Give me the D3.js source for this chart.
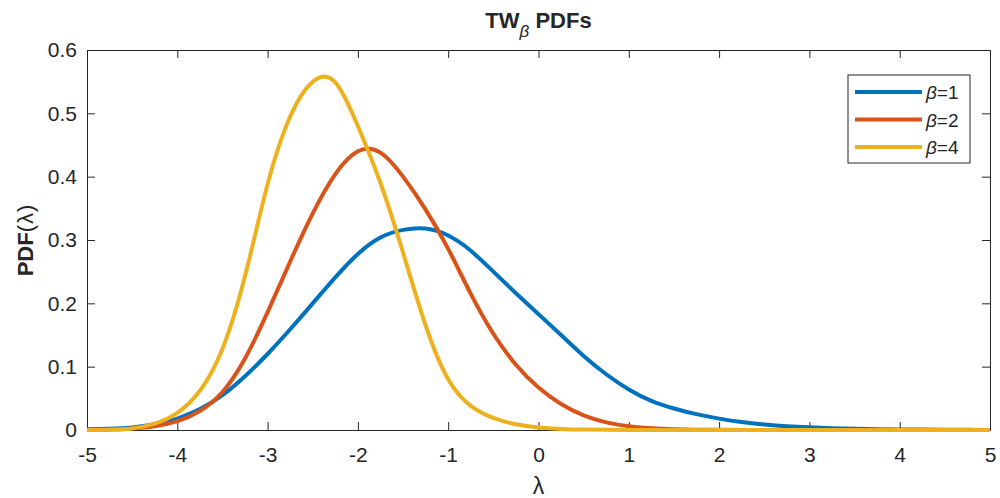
<!DOCTYPE html>
<html>
<head>
<meta charset="utf-8">
<script src="https://cdn.jsdelivr.net/npm/d3@7"></script>
<style>
  body { margin: 0; background: #fff; }
  text { font-family: Arial, "Liberation Sans", Helvetica, sans-serif; fill: #262626; }
</style>
</head>
<body>
<div class="first"></div>
<script>
// Tracy-Widom densities, on a grid of lambda values (step 0.25)
const lambdas = d3.range(41).map(i => -5 + i * 0.25);

const pdfBeta1 = [0.001, 0.002, 0.004, 0.009, 0.018, 0.033, 0.055, 0.085, 0.120, 0.159,
                  0.200, 0.241, 0.278, 0.304, 0.316, 0.318, 0.307, 0.283, 0.250, 0.216,
                  0.183, 0.150, 0.117, 0.088, 0.064, 0.046, 0.034, 0.025, 0.018, 0.0125,
                  0.0087, 0.006, 0.0042, 0.0029, 0.002, 0.0013, 0.0009, 0.0006, 0.0004, 0.0002, 0.0001];

const pdfBeta2 = [0.0002, 0.0008, 0.0025, 0.006, 0.014, 0.030, 0.060, 0.113, 0.186, 0.266,
                  0.342, 0.404, 0.440, 0.438, 0.400, 0.348, 0.286, 0.215, 0.152, 0.103,
                  0.067, 0.041, 0.023, 0.012, 0.006, 0.0028, 0.0012, 0.0005, 0.0002, 0.0001,
                  0, 0, 0, 0, 0, 0, 0, 0, 0, 0, 0];

const pdfBeta4 = [0, 0.0005, 0.0025, 0.010, 0.027, 0.062, 0.128, 0.243, 0.388, 0.495,
                  0.550, 0.549, 0.480, 0.390, 0.280, 0.165, 0.080, 0.038, 0.019, 0.009,
                  0.004, 0.0017, 0.0006, 0.0002, 0, 0, 0, 0, 0, 0,
                  0, 0, 0, 0, 0, 0, 0, 0, 0, 0, 0];

const seriesNames = ["1", "2", "4"];
const seriesColors = ["#0072BD", "#D95319", "#EDB120"];
const xTicks = [-5, -4, -3, -2, -1, 0, 1, 2, 3, 4, 5];
const yTicks = [0, 0.1, 0.2, 0.3, 0.4, 0.5, 0.6];

// Set the dimensions of my plot
const width = 1000;
const height = 498;
const margin = {top: 50, left: 87, right: 10, bottom: 68};
const plotRight = width - margin.right;
const plotBottom = height - margin.bottom;

const xScale = d3.scaleLinear().domain([-5, 5]).range([margin.left, plotRight]);
const yScale = d3.scaleLinear().domain([0, 0.6]).range([plotBottom, margin.top]);

const svg = d3.select('.first')
    .append('svg')
    .attr('width', width)
    .attr('height', height);

// axes, MATLAB style: box on, ticks pointing inward
svg.append('g')
    .attr('transform', `translate(0,${plotBottom})`)
    .call(d3.axisBottom(xScale).tickValues(xTicks).tickSizeInner(-8).tickSizeOuter(0).tickPadding(17)
        .tickFormat(d => String(d)))
    .call(g => g.selectAll('text').attr('font-size', 21).attr('fill', '#262626').attr('font-family', null));

svg.append('g')
    .attr('transform', `translate(0,${margin.top})`)
    .call(d3.axisTop(xScale).tickValues(xTicks).tickSizeInner(-8).tickSizeOuter(0).tickFormat(''));

svg.append('g')
    .attr('transform', `translate(${margin.left},0)`)
    .call(d3.axisLeft(yScale).tickValues(yTicks).tickSizeInner(-8).tickSizeOuter(0).tickPadding(10)
        .tickFormat(d => d === 0 ? '0' : d3.format('.1f')(d)))
    .call(g => g.selectAll('text').attr('font-size', 21).attr('fill', '#262626').attr('font-family', null));

svg.append('g')
    .attr('transform', `translate(${plotRight},0)`)
    .call(d3.axisRight(yScale).tickValues(yTicks).tickSizeInner(-8).tickSizeOuter(0).tickFormat(''));

svg.selectAll('.domain, .tick line').attr('stroke', '#262626');

// the three curves
const line = d3.line()
    .x((d, i) => xScale(lambdas[i]))
    .y(d => yScale(d))
    .curve(d3.curveNatural);

[pdfBeta1, pdfBeta2, pdfBeta4].forEach((vals, k) => {
    svg.append('path')
        .datum(vals)
        .attr('d', line)
        .attr('fill', 'none')
        .attr('stroke', seriesColors[k])
        .attr('stroke-width', 4)
        .attr('stroke-linejoin', 'round');
});

// title with subscript beta
const title = svg.append('text')
    .attr('x', (margin.left + plotRight) / 2)
    .attr('y', 28)
    .attr('text-anchor', 'middle')
    .attr('font-size', 22)
    .attr('font-weight', 'bold');
title.append('tspan').text('TW');
title.append('tspan').attr('dy', 9).attr('font-size', 17).attr('font-weight', 'normal')
    .attr('font-style', 'italic').text('β');
title.append('tspan').attr('dy', -9).text(' PDFs');

// axis labels
const ylab = svg.append('text')
    .attr('transform', `translate(33,${(margin.top + plotBottom) / 2}) rotate(-90)`)
    .attr('text-anchor', 'middle')
    .attr('font-size', 22);
ylab.append('tspan').attr('font-weight', 'bold').text('PDF');
ylab.append('tspan').attr('letter-spacing', 1).text('(λ)');

svg.append('text')
    .attr('x', (margin.left + plotRight) / 2)
    .attr('y', 494)
    .attr('text-anchor', 'middle')
    .attr('font-size', 23)
    .text('λ');

// legend
svg.append('rect')
    .attr('x', 848)
    .attr('y', 75)
    .attr('width', 122)
    .attr('height', 88)
    .attr('fill', '#fff')
    .attr('stroke', '#262626')
    .attr('stroke-width', 1);

seriesNames.forEach((name, k) => {
    const y = 92 + k * 27.5;
    svg.append('line')
        .attr('x1', 855).attr('x2', 922)
        .attr('y1', y).attr('y2', y)
        .attr('stroke', seriesColors[k])
        .attr('stroke-width', 4);
    const t = svg.append('text')
        .attr('x', 926)
        .attr('y', y + 7)
        .attr('font-size', 19);
    t.append('tspan').attr('font-style', 'italic').text('β');
    t.append('tspan').text('=' + name);
});
</script>
</body>
</html>
